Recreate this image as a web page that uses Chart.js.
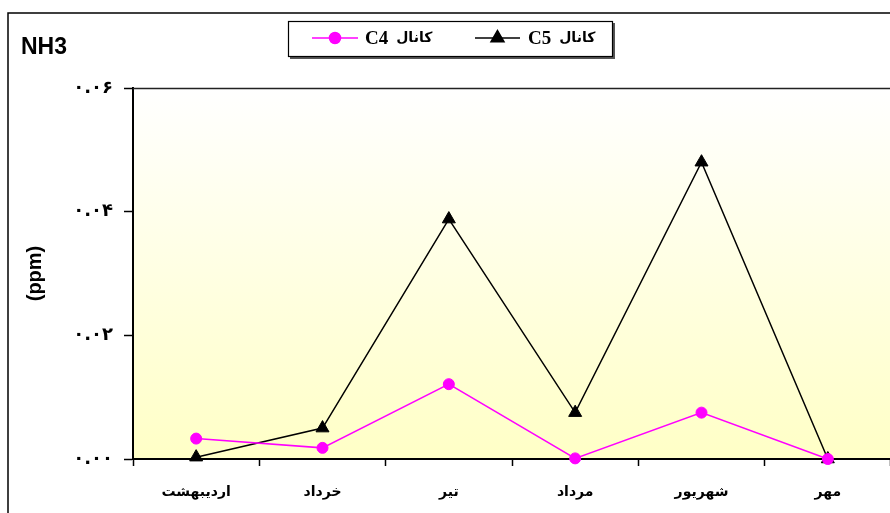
<!DOCTYPE html>
<html>
<head>
<meta charset="utf-8">
<script src="https://cdn.jsdelivr.net/npm/chart.js@4"></script>
<style>
  html, body { margin: 0; padding: 0; background: #fff; overflow: hidden; }
  #wrap { position: absolute; left: 0; top: 0; width: 900px; height: 513px; }
</style>
</head>
<body>
<div id="wrap"><canvas id="chart" width="900" height="513"></canvas></div>
<script>
// Monthly NH3 concentration (ppm) at two channels
const months = ['اردیبهشت', 'خرداد', 'تیر', 'مرداد', 'شهریور', 'مهر'];
const channelC4 = [0.0033, 0.0018, 0.0121, 0.0001, 0.0075, 0.0];
const channelC5 = [0.0003, 0.0050, 0.0388, 0.0075, 0.0480, 0.0];
const yTickLabels = ['۰.۰۰', '۰.۰۲', '۰.۰۴', '۰.۰۶'];
const seriesNames = ['کانال', 'کانال'];
const seriesCodes = ['C4', 'C5'];
const chartTitle = 'NH3';
const yTitle = '(ppm)';

const persianFont = "'DejaVu Sans', 'Noto Sans', sans-serif";

// plot background gradient, outer frame, title and boxed legend
const decorations = {
  id: 'decorations',
  beforeDraw(chart) {
    const { ctx, chartArea: a } = chart;
    ctx.save();
    const g = ctx.createLinearGradient(0, a.top, 0, a.bottom);
    g.addColorStop(0, '#ffffff');
    g.addColorStop(1, '#ffffc6');
    ctx.fillStyle = g;
    ctx.fillRect(a.left, a.top, a.right - a.left, a.bottom - a.top);
    ctx.restore();
  },
  afterDraw(chart) {
    const { ctx, chartArea: a } = chart;
    ctx.save();
    // plot area top edge
    ctx.strokeStyle = '#222';
    ctx.lineWidth = 1.5;
    ctx.beginPath();
    ctx.moveTo(a.left, a.top + 0.5);
    ctx.lineTo(chart.width, a.top + 0.5);
    ctx.stroke();
    // outer frame
    ctx.strokeStyle = '#000';
    ctx.lineWidth = 1.5;
    ctx.strokeRect(8, 13, 1000, 1000);
    // title
    ctx.fillStyle = '#000';
    ctx.font = "bold 23px 'Liberation Sans', Arial, sans-serif";
    ctx.textBaseline = 'alphabetic';
    ctx.textAlign = 'left';
    ctx.fillText(chartTitle, 21, 54);
    // legend box
    ctx.fillStyle = '#555';
    ctx.fillRect(290, 23, 325, 36);
    ctx.fillStyle = '#fff';
    ctx.fillRect(288, 21, 325, 36);
    ctx.strokeStyle = '#000';
    ctx.lineWidth = 1.2;
    ctx.strokeRect(288.5, 21.5, 324, 35);
    const items = [
      { x0: 312, x1: 358, color: '#ff00ff', style: 'circle', r: 5.5, tx: 365 },
      { x0: 475, x1: 520, color: '#000000', style: 'triangle', r: 7.5, tx: 528 }
    ];
    const ly = 38;
    items.forEach((it, i) => {
      ctx.strokeStyle = it.color;
      ctx.lineWidth = 1.5;
      ctx.beginPath();
      ctx.moveTo(it.x0, ly);
      ctx.lineTo(it.x1, ly);
      ctx.stroke();
      ctx.fillStyle = it.color;
      Chart.helpers.drawPoint(ctx, { pointStyle: it.style, radius: it.r, borderWidth: 1 }, (it.x0 + it.x1) / 2, ly);
      ctx.fill();
      ctx.fillStyle = '#000';
      ctx.textBaseline = 'middle';
      ctx.textAlign = 'left';
      ctx.font = "bold 19px 'Liberation Serif', 'Times New Roman', serif";
      ctx.fillText(seriesCodes[i], it.tx, ly + 1);
      const w = ctx.measureText(seriesCodes[i]).width;
      ctx.font = 'bold 14px ' + persianFont;
      ctx.fillText(seriesNames[i], it.tx + w + 8, ly);
    });
    ctx.restore();
  }
};

new Chart(document.getElementById('chart'), {
  type: 'line',
  data: {
    labels: months,
    datasets: [
      {
        label: seriesNames[0] + ' ' + seriesCodes[0],
        data: channelC4,
        borderColor: '#ff00ff',
        backgroundColor: '#ff00ff',
        borderWidth: 1.5,
        pointStyle: 'circle',
        pointRadius: 5.5,
        pointBorderWidth: 1,
        tension: 0,
        clip: false
      },
      {
        label: seriesNames[1] + ' ' + seriesCodes[1],
        data: channelC5,
        borderColor: '#000000',
        backgroundColor: '#000000',
        borderWidth: 1.5,
        pointStyle: 'triangle',
        pointRadius: 7.5,
        pointBorderWidth: 1,
        tension: 0,
        clip: false
      }
    ]
  },
  options: {
    responsive: false,
    animation: false,
    devicePixelRatio: 1,
    layout: { padding: { top: 88, right: 9, left: 0, bottom: 0 } },
    plugins: {
      legend: { display: false },
      tooltip: { enabled: false }
    },
    scales: {
      x: {
        offset: true,
        grid: {
          offset: true,
          drawOnChartArea: false,
          drawTicks: true,
          tickLength: 7,
          tickColor: '#000',
          tickWidth: 1.5
        },
        border: { color: '#000', width: 2 },
        ticks: {
          color: '#000',
          font: { family: persianFont, size: 14, weight: 'bold' },
          padding: 18,
          maxRotation: 0,
          autoSkip: false
        },
        afterFit(scale) { scale.height = 54; }
      },
      y: {
        min: 0,
        max: 0.06,
        grid: {
          drawOnChartArea: false,
          drawTicks: true,
          tickLength: 9,
          tickColor: '#000',
          tickWidth: 1.5
        },
        border: { color: '#000', width: 2 },
        ticks: {
          stepSize: 0.02,
          color: '#000',
          font: { family: persianFont, size: 18, weight: 'bold' },
          padding: 11,
          callback: (value, index) => yTickLabels[index]
        },
        title: {
          display: true,
          text: yTitle,
          color: '#000',
          font: { family: "'Liberation Sans', Arial, sans-serif", size: 20, weight: 'bold' },
          padding: { top: 23, bottom: 0 }
        },
        afterFit(scale) { scale.width = 133; }
      }
    }
  },
  plugins: [decorations]
});
</script>
</body>
</html>
